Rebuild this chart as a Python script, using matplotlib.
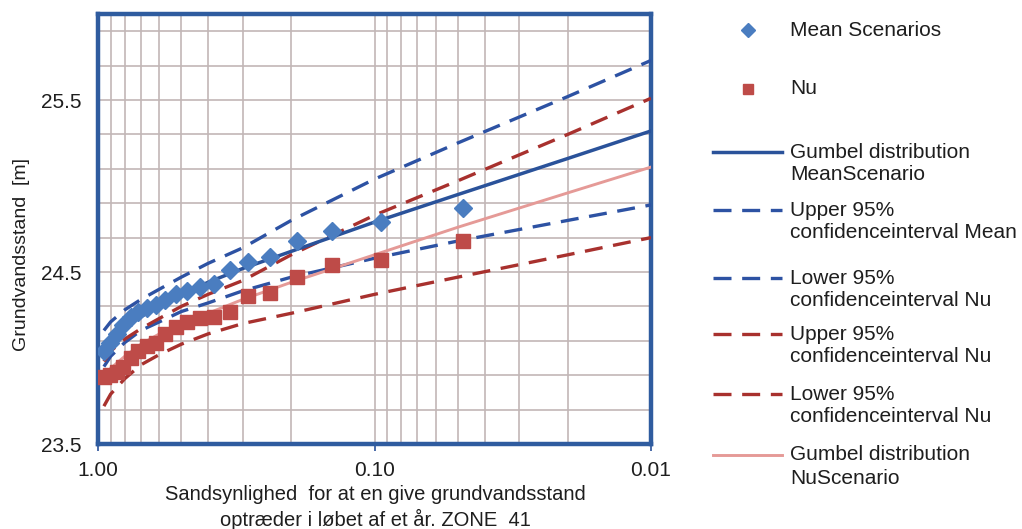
import matplotlib
matplotlib.use("Agg")
import matplotlib.pyplot as plt
from matplotlib.lines import Line2D
from matplotlib.ticker import FixedLocator, NullFormatter

plt.rcParams['font.family'] = ['Liberation Sans', 'DejaVu Sans']

# Observerede sandsynligheder og grundvandsstande
p_obs = [0.952, 0.905, 0.857, 0.810, 0.762, 0.714, 0.667, 0.619, 0.571, 0.524,
         0.476, 0.429, 0.381, 0.333, 0.286, 0.238, 0.190, 0.143, 0.095, 0.048]
mean_obs = [24.04, 24.09, 24.14, 24.19, 24.24, 24.27, 24.29, 24.31, 24.34, 24.37,
            24.39, 24.41, 24.43, 24.51, 24.56, 24.59, 24.68, 24.74, 24.79, 24.87]
nu_obs = [23.89, 23.90, 23.92, 23.95, 24.00, 24.04, 24.07, 24.09, 24.14, 24.18,
          24.21, 24.23, 24.24, 24.27, 24.36, 24.38, 24.47, 24.54, 24.57, 24.68]

# Gumbel-fordelinger og konfidensintervaller
p_fit = [0.952, 0.9, 0.8, 0.7, 0.6, 0.5, 0.4, 0.3, 0.2, 0.1, 0.05, 0.02, 0.01]
gumbel_mean = [24.03, 24.10, 24.18, 24.24, 24.30, 24.37, 24.44, 24.52, 24.62, 24.79, 24.95, 25.16, 25.32]
upper_mean = [24.16, 24.21, 24.28, 24.34, 24.40, 24.47, 24.55, 24.64, 24.80, 25.04, 25.25, 25.52, 25.73]
lower_mean = [23.95, 24.01, 24.09, 24.16, 24.21, 24.27, 24.32, 24.39, 24.47, 24.58, 24.68, 24.80, 24.89]
gumbel_nu = [23.88, 23.94, 24.01, 24.08, 24.14, 24.20, 24.26, 24.34, 24.44, 24.60, 24.76, 24.96, 25.11]
upper_nu = [23.98, 24.04, 24.11, 24.17, 24.23, 24.30, 24.37, 24.45, 24.60, 24.83, 25.03, 25.30, 25.51]
lower_nu = [23.72, 23.79, 23.88, 23.96, 24.02, 24.08, 24.14, 24.20, 24.26, 24.37, 24.47, 24.60, 24.70]

x_ticks = [1.0, 0.1, 0.01]
x_tick_labels = ['1.00', '0.10', '0.01']
y_ticks = [23.5, 23.7, 23.9, 24.1, 24.3, 24.5, 24.7, 24.9, 25.1, 25.3, 25.5, 25.7, 25.9]
y_tick_labels = ['23.5', '', '', '', '', '24.5', '', '', '', '', '25.5', '', '']

legend_labels = ['Mean Scenarios', 'Nu', 'Gumbel distribution\nMeanScenario',
                 'Upper 95%\nconfidenceinterval Mean', 'Lower 95%\nconfidenceinterval Nu',
                 'Upper 95%\nconfidenceinterval Nu', 'Lower 95%\nconfidenceinterval Nu',
                 'Gumbel distribution\nNuScenario']

c_mean_pt = '#4a7dc0'
c_nu_pt = '#be4b48'
c_mean_line = '#2a529a'
c_mean_dash = '#2d52a3'
c_nu_dash = '#a8312e'
c_nu_line = '#e59a97'
c_text = '#1e1e1e'

W, H = 1022, 529
fig = plt.figure(figsize=(W / 100, H / 100), dpi=100)
ax = fig.add_axes([98 / W, 1 - 444 / H, (651 - 98) / W, (444 - 14) / H])

dash_kw = dict(lw=2.4, dashes=(5.4, 3.2), solid_capstyle='butt', dash_capstyle='butt')
styles = [
    dict(ls='none', marker='D', ms=9.5, color=c_mean_pt, mec=c_mean_pt),
    dict(ls='none', marker='s', ms=9.8, color=c_nu_pt, mec=c_nu_pt),
    dict(color=c_mean_line, lw=2.5),
    dict(color=c_mean_dash, **dash_kw),
    dict(color=c_mean_dash, **dash_kw),
    dict(color=c_nu_dash, **dash_kw),
    dict(color=c_nu_dash, **dash_kw),
    dict(color=c_nu_line, lw=2.1),
]

ax.plot(p_fit, upper_mean, zorder=3, **styles[3])
ax.plot(p_fit, lower_mean, zorder=3, **styles[4])
ax.plot(p_fit, upper_nu, zorder=3, **styles[5])
ax.plot(p_fit, lower_nu, zorder=3, **styles[6])
ax.plot(p_fit, gumbel_mean, zorder=3, **styles[2])
ax.plot(p_fit, gumbel_nu, zorder=3, **styles[7])
ax.plot(p_obs, mean_obs, zorder=4, **styles[0])
ax.plot(p_obs, nu_obs, zorder=4, **styles[1])

ax.set_xscale('log')
ax.set_xlim(1.0, 0.01)
ax.set_ylim(23.5, 26.0)
ax.set_xticks(x_ticks)
ax.set_xticklabels(x_tick_labels)
ax.xaxis.set_minor_locator(FixedLocator([k * 0.1 for k in range(2, 10)] + [k * 0.01 for k in range(2, 10)]))
ax.xaxis.set_minor_formatter(NullFormatter())
ax.set_yticks(y_ticks)
ax.set_yticklabels(y_tick_labels)

ax.grid(True, which='both', color='#c2b6b6', lw=1.2, zorder=0)
ax.set_axisbelow(True)
ax.tick_params(axis='x', which='major', length=5, width=1.2, color=c_mean_line,
               labelsize=15, labelcolor=c_text, pad=7)
ax.tick_params(axis='x', which='minor', length=0)
ax.tick_params(axis='y', length=0, labelsize=15, labelcolor=c_text, pad=12)
for s in ax.spines.values():
    s.set_color('#2f5c9f')
    s.set_linewidth(3.2)

fig.text(22 / W, 1 - 255 / H, 'Grundvandsstand  [m]', rotation=90, ha='center', va='center',
         fontsize=14, color=c_text)
fig.text(375 / W, 1 - 495 / H, 'Sandsynlighed  for at en give grundvandsstand', ha='center', va='center',
         fontsize=14.5, color=c_text)
fig.text(375 / W, 1 - 519 / H, 'optræder i løbet af et år. ZONE  41', ha='center', va='center',
         fontsize=14.5, color=c_text)

# Forklaring (legend) tegnet manuelt
legend_y = [30, 89, 152, 210, 278, 334, 394, 455]
line_gap = 23
for lab, y, st in zip(legend_labels, legend_y, styles):
    yf = 1 - y / H
    if st.get('marker'):
        mst = dict(st, ms=st['ms'] * 0.8)
        fig.add_artist(Line2D([748 / W], [yf], transform=fig.transFigure, **mst))
    else:
        fig.add_artist(Line2D([713 / W, 782 / W], [yf, yf], transform=fig.transFigure, **st))
    for i, part in enumerate(lab.split('\n')):
        fig.text(790 / W, 1 - (y + i * line_gap) / H, part, ha='left', va='center',
                 fontsize=15, color=c_text)

fig.savefig('out.png', dpi=100)
